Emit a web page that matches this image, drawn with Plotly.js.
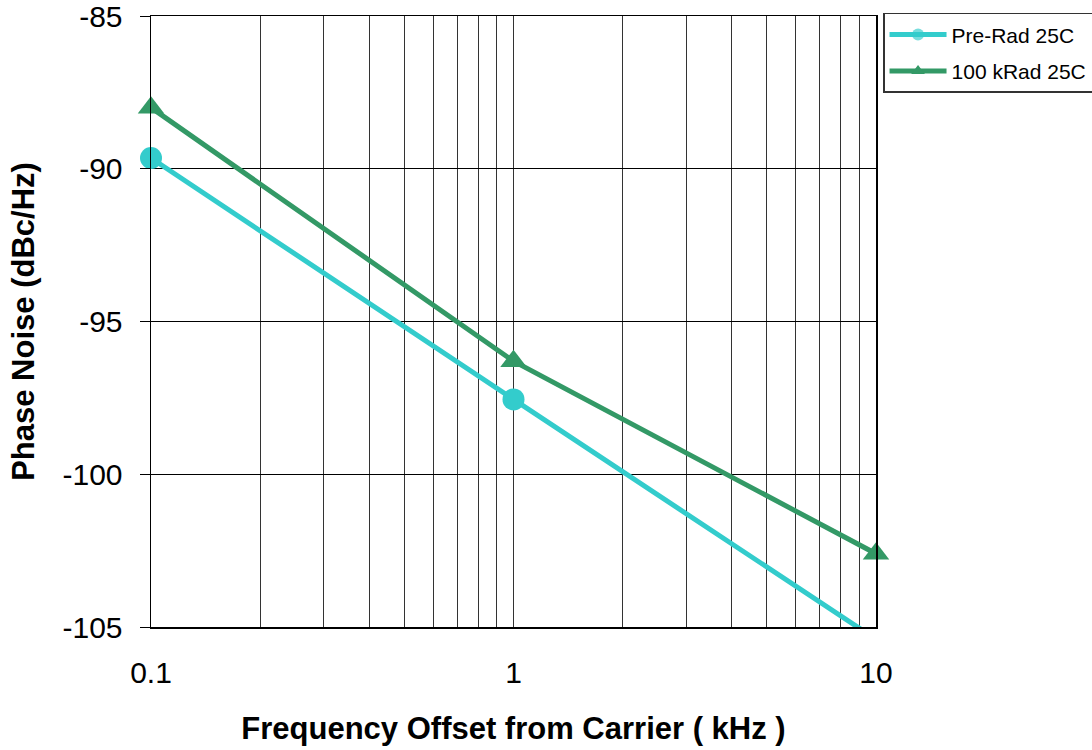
<!DOCTYPE html>
<html>
<head>
<meta charset="utf-8">
<script src="https://cdn.plot.ly/plotly-3.0.1.min.js"></script>
<style>html,body{margin:0;padding:0;background:#fff;}#chart{width:1092px;height:750px;}</style>
</head>
<body>
<div id="chart"></div>
<script>
const freqKHz = [0.1, 1, 10];
const preRad25C = [-89.65, -97.55, -105.4];
const kRad100_25C = [-88.0, -96.3, -102.6];
const xGridVals = [0.1,0.2,0.3,0.4,0.5,0.6,0.7,0.8,0.9,1,2,3,4,5,6,7,8,9,10];
const xGridText = ['0.1','','','','','','','','','1','','','','','','','','','10'];
const yTickVals = [-105,-100,-95,-90,-85];
const yTickText = ['-105','-100','-95','-90','-85'];

const font = 'Arial, "Liberation Sans", Helvetica, sans-serif';

const traces = [
  {
    x: freqKHz, y: preRad25C, name: 'Pre-Rad 25C', mode: 'lines+markers',
    legendgroup: 'a', cliponaxis: false,
    line: {color: '#33CCCC', width: 5},
    marker: {symbol: 'circle', size: 22, color: '#33CCCC', opacity: [1, 1, 0]}
  },
  {
    x: freqKHz, y: kRad100_25C, name: '100 kRad 25C', mode: 'lines+markers',
    legendgroup: 'b', cliponaxis: false,
    line: {color: '#339966', width: 5},
    marker: {symbol: 'triangle-up', size: 23, color: '#339966'}
  }
];

const layout = {
  width: 1092, height: 750,
  margin: {l: 151, r: 216, t: 16, b: 123, autoexpand: false},
  paper_bgcolor: '#fff', plot_bgcolor: '#fff',
  font: {family: font, color: '#000'},
  showlegend: true,
  legend: {
    x: 1.0097, y: 1.005, xanchor: 'left', yanchor: 'top',
    bordercolor: '#333', borderwidth: 1.5, bgcolor: '#fff',
    font: {size: 21, family: font, color: '#000'},
    traceorder: 'grouped', tracegroupgap: 6,
    itemsizing: 'constant', itemwidth: 57
  },
  xaxis: {
    type: 'log', range: [-1, 1],
    tickvals: xGridVals, ticktext: xGridText,
    ticks: '', showgrid: true, gridcolor: '#333', gridwidth: 1,
    showline: true, linecolor: '#000', linewidth: 1.5, mirror: true,
    zeroline: false, automargin: false,
    tickfont: {size: 30, family: font},
    ticklabelstandoff: 18, ticklabeloverflow: 'allow',
    title: {text: 'Frequency Offset from Carrier ( kHz )', font: {size: 31, family: font, weight: 'bold'}, standoff: 30}
  },
  yaxis: {
    range: [-105, -85],
    tickvals: yTickVals, ticktext: yTickText,
    ticks: 'outside', ticklen: 10, tickcolor: '#000', tickwidth: 1,
    showgrid: true, gridcolor: '#000', gridwidth: 1,
    showline: true, linecolor: '#000', linewidth: 1.5, mirror: true,
    zeroline: false, automargin: false,
    tickfont: {size: 30, family: font},
    ticklabelstandoff: 11, ticklabeloverflow: 'allow',
    title: {text: 'Phase Noise (dBc/Hz)', font: {size: 31, family: font, weight: 'bold'}, standoff: 18}
  }
};

Plotly.newPlot('chart', traces, layout, {displayModeBar: false, staticPlot: true});
</script>
</body>
</html>
